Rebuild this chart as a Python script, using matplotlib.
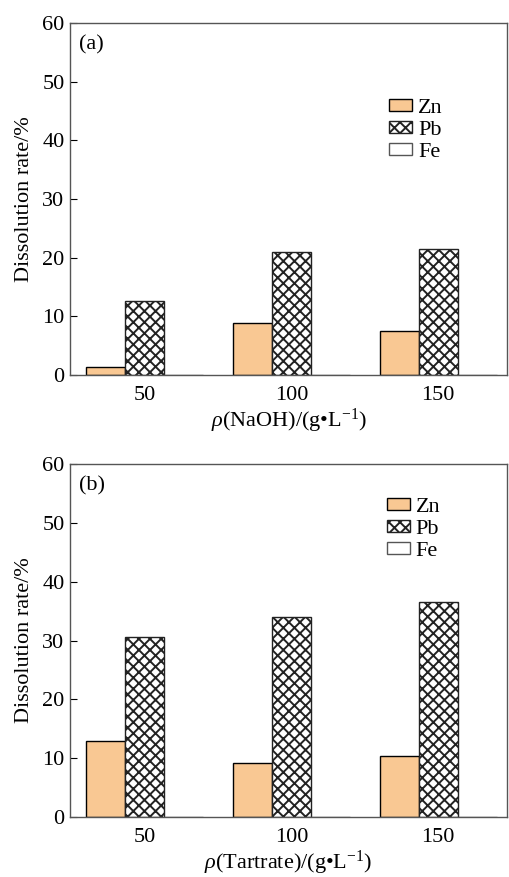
import matplotlib
matplotlib.use('Agg')
import matplotlib.pyplot as plt
import numpy as np

plt.rcParams['font.family'] = ['Liberation Serif', 'DejaVu Serif']
plt.rcParams['mathtext.fontset'] = 'custom'
plt.rcParams['mathtext.it'] = 'Liberation Serif:italic'
plt.rcParams['mathtext.rm'] = 'Liberation Serif'
plt.rcParams['hatch.linewidth'] = 1.4
plt.rcParams['hatch.color'] = '#222222'

conc = ['50', '100', '150']
zn_a = [1.4, 8.9, 7.5]
pb_a = [12.6, 21.0, 21.5]
fe_a = [0.0, 0.0, 0.0]
zn_b = [12.9, 9.2, 10.4]
pb_b = [30.6, 34.0, 36.5]
fe_b = [0.0, 0.0, 0.0]

W, H = 509, 877
fig = plt.figure(figsize=(W / 100, H / 100), dpi=100)

def panel(rect, zn, pb, fe, tag, xlab, leg_anchor):
    ax = fig.add_axes(rect)
    x = np.arange(len(conc))
    w = 0.266
    ax.bar(x - w, zn, w, color='#F9C893', edgecolor='black', linewidth=1.0, label='Zn')
    ax.bar(x, pb, w, color='white', edgecolor='#222222', hatch='xxx', linewidth=1.0, label='Pb')
    ax.bar(x + w, fe, w, color='white', edgecolor='#555555', linewidth=1.0, label='Fe')
    ax.set_xlim(-0.51, 2.47)
    ax.set_ylim(0, 60)
    ax.set_yticks(range(0, 61, 10))
    ax.set_xticks(x)
    ax.set_xticklabels(conc)
    ax.tick_params(axis='y', direction='in', length=5, labelsize=16, pad=4)
    ax.tick_params(axis='x', length=0, labelsize=16, pad=8)
    for s in ax.spines.values():
        s.set_color('#555555')
        s.set_linewidth(1.0)
    ax.set_ylabel('Dissolution rate/%', fontsize=16, labelpad=6)
    ax.set_xlabel(xlab, fontsize=16, labelpad=1)
    ax.text(0.02, 0.965, tag, transform=ax.transAxes, fontsize=16, va='top', ha='left')
    ax.legend(loc='upper left', bbox_to_anchor=leg_anchor, frameon=False, fontsize=16,
              handlelength=1.05, handleheight=0.45, handletextpad=0.25, labelspacing=0.15,
              borderpad=0, borderaxespad=0)
    return ax

panel([70 / W, 1 - 375 / H, 437 / W, 352 / H], zn_a, pb_a, fe_a, '(a)',
      r'$\it{\rho}$(NaOH)/(g•L$^{-1}$)', (0.73, 0.785))
panel([70 / W, 1 - 817 / H, 437 / W, 353 / H], zn_b, pb_b, fe_b, '(b)',
      r'$\it{\rho}$(Tartrate)/(g•L$^{-1}$)', (0.725, 0.905))

fig.savefig('out.png', dpi=100)
